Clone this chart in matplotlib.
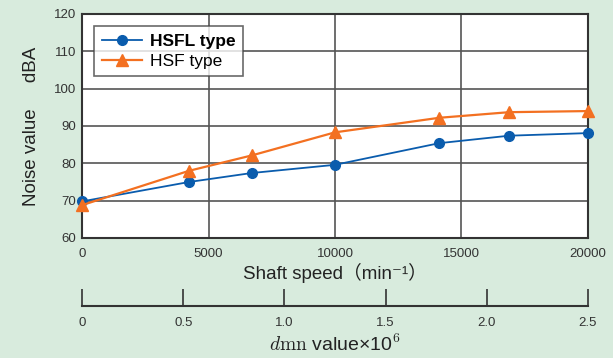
import matplotlib.pyplot as plt

# shaft speed (min^-1)
speed = [0, 4230, 6700, 10000, 14120, 16880, 20000]
hsfl_noise = [69.8, 75.0, 77.4, 79.6, 85.4, 87.4, 88.1]
hsf_noise = [68.8, 78.0, 82.1, 88.3, 92.2, 93.7, 94.0]

y_ticks = [60, 70, 80, 90, 100, 110, 120]
x_ticks = [0, 5000, 10000, 15000, 20000]
dmn_ticks = [0, 0.5, 1.0, 1.5, 2.0, 2.5]

bg = '#d8ebdd'
blue = '#0a5cad'
orange = '#f37021'
grid_col = '#555555'

plt.rcParams['font.family'] = ['Liberation Sans', 'Noto Sans CJK JP', 'DejaVu Sans']

fig = plt.figure(figsize=(6.13, 3.58), dpi=100, facecolor=bg)
ax = fig.add_axes([0.1338, 0.3352, 0.8254, 0.6257])
ax.set_facecolor('white')

ax.plot(speed, hsfl_noise, color=blue, marker='o', markersize=7, lw=1.3,
        label='HSFL type', zorder=3, clip_on=False)
ax.plot(speed, hsf_noise, color=orange, marker='^', markersize=8, lw=1.6,
        label='HSF type', zorder=3, clip_on=False)

ax.set_xlim(0, 20000)
ax.set_ylim(60, 120)
ax.set_xticks(x_ticks)
ax.set_yticks(y_ticks)
ax.grid(True, color=grid_col, lw=1.2)
ax.set_axisbelow(True)
for s in ax.spines.values():
    s.set_color('#333333')
    s.set_linewidth(1.5)
ax.tick_params(length=0, labelsize=9.5, labelcolor='#333333', pad=4)
ax.tick_params(axis='x', pad=7)

ax.set_ylabel('Noise value     dBA', fontsize=13.5, color='#222222', labelpad=10)
ax.set_xlabel('Shaft speed（min⁻¹）', fontsize=13.5, color='#222222', labelpad=2)

leg = ax.legend(loc='upper left', fontsize=12.5, frameon=True, fancybox=False,
                borderaxespad=0.7, handlelength=2.3, handletextpad=0.45,
                borderpad=0.45, labelspacing=0.25)
leg.get_frame().set_edgecolor('#444444')
leg.get_frame().set_linewidth(1.2)
leg.get_texts()[0].set_fontweight('bold')

# secondary dmn scale
ax2 = fig.add_axes([0.1338, 0.1453, 0.8254, 0.04])
ax2.patch.set_visible(False)
for k in ['top', 'left', 'right']:
    ax2.spines[k].set_visible(False)
ax2.spines['bottom'].set_color('#333333')
ax2.spines['bottom'].set_linewidth(1.5)
ax2.set_xlim(0, 2.5)
ax2.set_xticks(dmn_ticks)
ax2.set_xticklabels(['0', '0.5', '1.0', '1.5', '2.0', '2.5'])
ax2.set_yticks([])
ax2.tick_params(axis='x', direction='in', length=12, width=1.2, color='#333333',
                labelsize=9.5, labelcolor='#333333', pad=8)
ax2.set_xlabel(r'$d\mathrm{mn}$ value×10$^{6}$', fontsize=14, color='#222222',
               labelpad=3, math_fontfamily='cm')

fig.savefig('out.png', dpi=100, facecolor=bg)
